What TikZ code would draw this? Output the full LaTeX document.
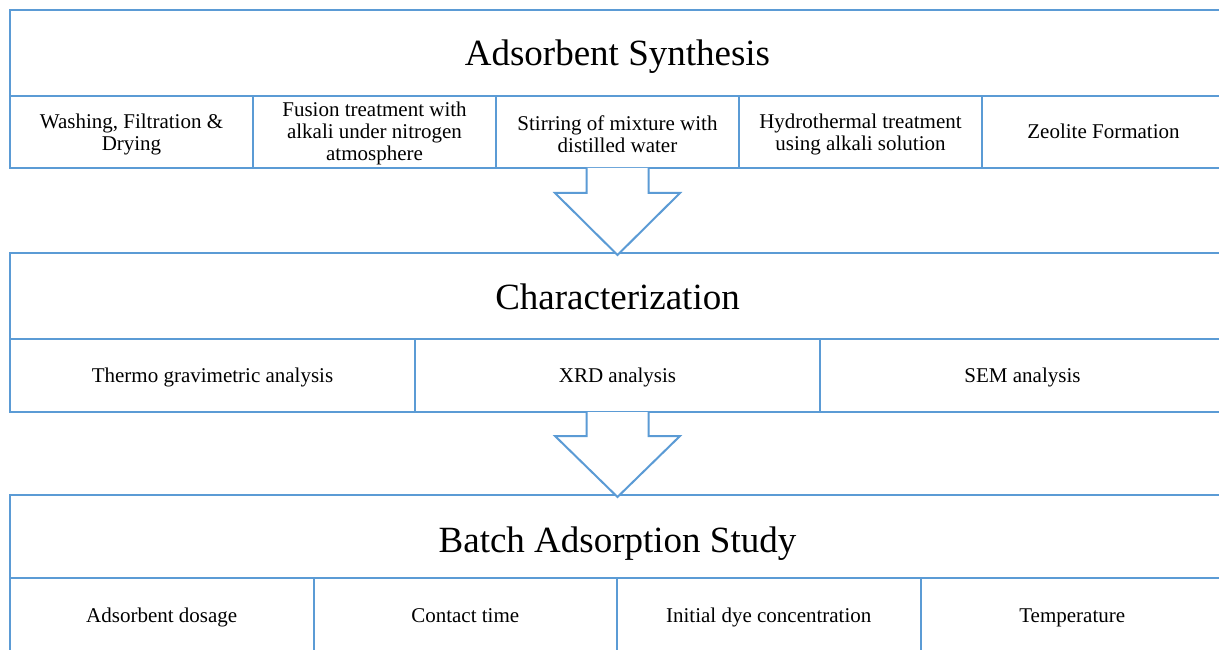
\documentclass[tikz,border=0pt]{standalone}
\usepackage{fontspec}
\setmainfont{Liberation Serif}
\usetikzlibrary{calc}
\definecolor{cellblue}{RGB}{91,155,213}
\tikzset{
  cell/.style={draw=cellblue, line width=2pt, rectangle, anchor=north west, inner sep=0pt, outer sep=0pt, align=center, font=\fontsize{21}{22}\selectfont, text=black},
  single/.style={cell, text height=15pt, text depth=1pt},
  multi/.style={align=center, font=\fontsize{21}{22}\selectfont, text=black, inner sep=0pt, yshift=-2pt},
  titlecell/.style={cell, font=\fontsize{37}{40}\selectfont},
  blockarrow/.style={draw=cellblue, line width=2pt, fill=white, line join=miter}
}
\begin{document}
\begin{tikzpicture}[x=1pt,y=-1pt]
\clip (0,0) rectangle (1219,650);
\fill[white] (0,0) rectangle (1219,650);
% Box 1
\node[titlecell, minimum width=1215pt, minimum height=86pt, text height=32pt, text depth=6pt] (t1) at (10,10) {Adsorbent Synthesis};
\node[cell, minimum width=243pt, minimum height=72pt, label={[multi]center:{Washing, Filtration \&\\Drying}}] (a1) at (10,96) {};
\node[cell, minimum width=243pt, minimum height=72pt, label={[multi, yshift=1pt]center:{Fusion treatment with\\alkali under nitrogen\\atmosphere}}] (a2) at (253,96) {};
\node[cell, minimum width=243pt, minimum height=72pt, label={[multi]center:{Stirring of mixture with\\distilled water}}] (a3) at (496,96) {};
\node[cell, minimum width=243pt, minimum height=72pt, label={[multi]center:{Hydrothermal treatment\\using alkali solution}}] (a4) at (739,96) {};
\node[single, minimum width=243pt, minimum height=72pt] (a5) at (982,96) {Zeolite Formation};
% Box 2
\node[titlecell, minimum width=1215pt, minimum height=86pt, text height=32pt, text depth=6pt] (t2) at (10,253) {Characterization};
\node[single, minimum width=405pt, minimum height=73pt] (b1) at (10,339) {Thermo gravimetric analysis};
\node[single, minimum width=405pt, minimum height=73pt] (b2) at (415,339) {XRD analysis};
\node[single, minimum width=405pt, minimum height=73pt] (b3) at (820,339) {SEM analysis};
% Box 3
\node[titlecell, minimum width=1215pt, minimum height=83pt, text height=34pt, text depth=3pt] (t3) at (10,495) {Batch Adsorption Study};
\node[single, minimum width=303.5pt, minimum height=74pt] (c1) at (10,578) {Adsorbent dosage};
\node[single, minimum width=303.5pt, minimum height=74pt] (c2) at (313.5,578) {Contact time};
\node[single, minimum width=303.5pt, minimum height=74pt] (c3) at (617,578) {Initial dye concentration};
\node[single, minimum width=303.5pt, minimum height=74pt] (c4) at (920.5,578) {Temperature};
% Block arrows
\draw[blockarrow] ($(t1.center |- a3.south)+(-31,0)$) -- ++(0,25) -- ++(-31.5,0) -- ($(t2.north)+(0,2)$) -- ($(t1.center |- a3.south)+(62.5,25)$) -- ++(-31.5,0) -- ++(0,-25);
\draw[blockarrow] ($(t2.center |- b2.south)+(-31,0)$) -- ++(0,24) -- ++(-31.5,0) -- ($(t3.north)+(0,2)$) -- ($(t2.center |- b2.south)+(62.5,24)$) -- ++(-31.5,0) -- ++(0,-24);
\end{tikzpicture}
\end{document}
